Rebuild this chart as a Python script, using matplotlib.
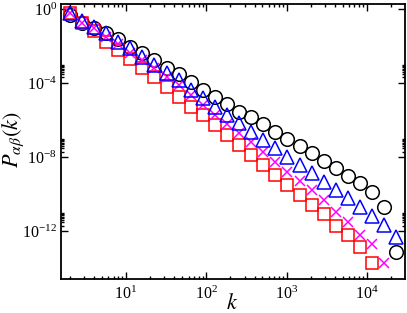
import numpy as np
import matplotlib
matplotlib.use("Agg")
import matplotlib.pyplot as plt
from matplotlib.ticker import LogLocator, FixedLocator, NullFormatter, LogFormatterSciNotation

plt.rcParams['font.family'] = ['Liberation Serif', 'DejaVu Serif']
plt.rcParams['mathtext.fontset'] = 'stix'

# degree bins k (log-binned, factor sqrt(2))
k_all = [2, 2.83, 4, 5.66, 8, 11.3, 16, 22.6, 32, 45.3, 64, 90.5, 128, 181,
         256, 362, 512, 724, 1024, 1448, 2048, 2896, 4096, 5793, 8192, 11585,
         16384, 23170]

p_circle = [0.474, 0.175, 0.094, 0.0505, 0.0239, 8.83e-3, 4.19e-3, 1.75e-3,
            6.47e-4, 3.06e-4, 1.13e-4, 4.19e-5, 1.75e-5, 7.33e-6, 2.70e-6,
            1.45e-6, 6.08e-7, 2.24e-7, 9.4e-8, 3.94e-8, 1.64e-8, 6.08e-9,
            2.54e-9, 9.4e-10, 3.94e-10, 1.28e-10, 1.98e-11, 7.33e-14]
p_triangle = [0.608, 0.224, 0.106, 0.0505, 0.0164, 7.8e-3, 2.54e-3, 9.4e-4,
              3.47e-4, 1.45e-4, 4.19e-5, 1.55e-5, 5.05e-6, 1.86e-6, 6.89e-7,
              2.24e-7, 8.3e-8, 3.06e-8, 1.0e-8, 3.7e-9, 1.36e-9, 4.46e-10,
              1.64e-10, 6.08e-11, 1.98e-11, 6.47e-12, 2.11e-12, 4.74e-13]
p_cross = [0.608, 0.175, 0.094, 0.0306, 0.0128, 4.19e-3, 1.75e-3, 6.47e-4,
           2.11e-4, 7.8e-5, 2.24e-5, 6.47e-6, 1.86e-6, 6.08e-7, 1.98e-7,
           6.47e-8, 1.86e-8, 5.37e-9, 1.55e-9, 5.05e-10, 1.64e-10, 4.74e-11,
           1.06e-11, 3.06e-12, 6.08e-13, 1.98e-13, 1.86e-14]
p_square = [0.608, 0.175, 0.0647, 0.0164, 6.08e-3, 1.98e-3, 6.47e-4, 2.11e-4,
            6.08e-5, 1.75e-5, 5.05e-6, 1.86e-6, 5.37e-7, 1.55e-7, 4.46e-8,
            1.28e-8, 3.7e-9, 1.06e-9, 3.06e-10, 8.83e-11, 2.54e-11, 8.3e-12,
            1.86e-12, 6.08e-13, 1.36e-13, 1.86e-14]

fig = plt.figure(figsize=(4.07, 3.13), dpi=100)
ax = fig.add_axes([61/407, 1-279/313, 344/407, 275/313])

lw = 1.1
ax.plot(k_all[:len(p_circle)], p_circle, linestyle='none', marker='o', ms=9.8,
        mfc='none', mec='black', mew=lw)
ax.plot(k_all[:len(p_square)], p_square, linestyle='none', marker='s', ms=8.3,
        mfc='none', mec='red', mew=lw)
ax.plot(k_all[:len(p_cross)], p_cross, linestyle='none', marker='x', ms=7,
        mfc='none', mec='magenta', mew=lw)
ax.plot(k_all[:len(p_triangle)], p_triangle, linestyle='none', marker='^', ms=9.5,
        mfc='none', mec='blue', mew=lw)

ax.set_xscale('log')
ax.set_yscale('log')
ax.set_xlim(1.55, 29800)
ax.set_ylim(2.6e-15, 1.86)

ax.xaxis.set_major_locator(FixedLocator([10, 100, 1000, 10000]))
ax.xaxis.set_minor_locator(LogLocator(base=10, subs=np.arange(2, 10), numticks=20))
ax.xaxis.set_major_formatter(LogFormatterSciNotation())
ax.xaxis.set_minor_formatter(NullFormatter())

ymaj = [1e0, 1e-4, 1e-8, 1e-12]
ax.yaxis.set_major_locator(FixedLocator(ymaj))
ymin_ticks = [m * v for v in ymaj[1:] for m in range(2, 10)]
ax.yaxis.set_minor_locator(FixedLocator(ymin_ticks))
ax.yaxis.set_major_formatter(LogFormatterSciNotation())
ax.yaxis.set_minor_formatter(NullFormatter())

for s in ax.spines.values():
    s.set_linewidth(1.3)
ax.tick_params(which='both', direction='in', top=True, right=True, width=1.0)
ax.tick_params(which='major', length=5, labelsize=11.5)
ax.tick_params(axis='x', which='major', pad=5)
ax.tick_params(axis='y', which='major', pad=3)
ax.tick_params(which='minor', length=2.5)

ax.set_xlabel(r'$k$', fontsize=16)
ax.xaxis.set_label_coords((232 - 61) / 344, -(294 - 279) / 275)
ax.xaxis.label.set_va('top')
ax.set_ylabel(r'$P_{\alpha\beta}(k)$', fontsize=16)
ax.yaxis.set_label_coords((26 - 61) / 344, (279 - 140) / 275)

fig.savefig('out.png', dpi=100)
